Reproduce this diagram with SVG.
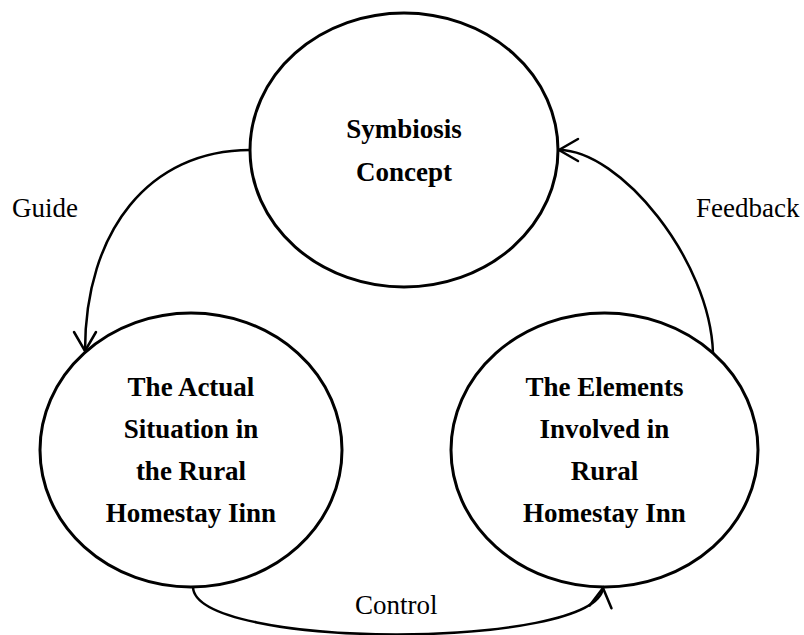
<svg xmlns="http://www.w3.org/2000/svg" width="804" height="635" viewBox="0 0 804 635">
  <style>
    .node { fill: #ffffff; stroke: #000000; stroke-width: 3; }
    .title { font-size: 27px; font-weight: bold; fill: #000000; text-anchor: middle; }
    .label { font-size: 27px; fill: #000000; }
    .conn { fill: none; stroke: #000000; stroke-width: 2.5; marker-end: url(#arrow); }
  </style>
  <defs>
    <marker id="arrow" markerUnits="userSpaceOnUse" markerWidth="30" markerHeight="30" viewBox="-25 -15 30 30" refX="0" refY="0" orient="auto">
      <path d="M -19,-11 L 0,0 L -19,11" fill="none" stroke="#000000" stroke-width="2.5" stroke-linecap="round" stroke-linejoin="miter"/>
    </marker>
  </defs>
  <rect width="804" height="635" fill="#ffffff"/>

  <g font-family="Liberation Serif, Times New Roman, DejaVu Serif, serif">
  <g id="symbiosis-concept">
    <ellipse class="node" cx="404" cy="150" rx="154" ry="137"/>
    <text class="title" x="404" y="138">Symbiosis</text>
    <text class="title" x="404" y="181">Concept</text>
  </g>

  <g id="actual-situation">
    <ellipse class="node" cx="191" cy="450" rx="151" ry="137"/>
    <text class="title" x="191" y="396">The Actual</text>
    <text class="title" x="191" y="438">Situation in</text>
    <text class="title" x="191" y="480">the Rural</text>
    <text class="title" x="191" y="522">Homestay Iinn</text>
  </g>

  <g id="elements-involved">
    <ellipse class="node" cx="604.5" cy="450" rx="153.5" ry="137"/>
    <text class="title" x="604.5" y="396">The Elements</text>
    <text class="title" x="604.5" y="438">Involved in</text>
    <text class="title" x="604.5" y="480">Rural</text>
    <text class="title" x="604.5" y="522">Homestay Inn</text>
  </g>

  <g id="connectors">
    <path class="conn" d="M 250,150 C 150,150 85,230 85,351"/>
    <path class="conn" d="M 713,353 C 710,260 620,150 559,150"/>
    <path class="conn" d="M 193,587 C 195,650 595,650 603,588"/>
    <text class="label" x="12" y="217">Guide</text>
    <text class="label" x="696" y="217">Feedback</text>
    <text class="label" x="355" y="614">Control</text>
  </g>
  </g>
</svg>
